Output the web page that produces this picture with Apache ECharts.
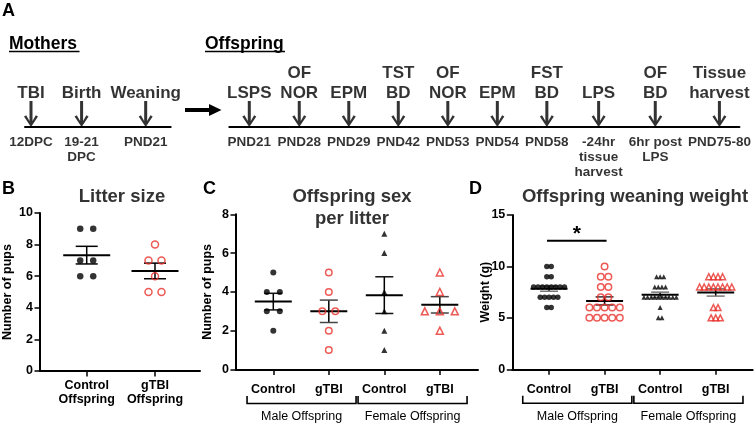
<!DOCTYPE html>
<html><head><meta charset="utf-8">
<script src="https://cdn.jsdelivr.net/npm/echarts@6/dist/echarts.min.js"></script>
<style>html,body{margin:0;padding:0;background:#fff}#c{width:754px;height:424px}</style>
</head><body><div id="c"></div>
<script>
// ---------- Data ----------
const mothersEvents = ['TBI', 'Birth', 'Weaning'];
const mothersDates = ['12DPC', '19-21\nDPC', 'PND21'];
const offspringEvents = ['LSPS', 'OF\nNOR', 'EPM', 'TST\nBD', 'OF\nNOR', 'EPM', 'FST\nBD', 'LPS', 'OF\nBD', 'Tissue\nharvest'];
const offspringDates = ['PND21', 'PND28', 'PND29', 'PND42', 'PND53', 'PND54', 'PND58', '-24hr\ntissue\nharvest', '6hr post\nLPS', 'PND75-80'];

const litterCategories = ['Control\nOffspring', 'gTBI\nOffspring'];
const litterControl = [9, 9, 7, 7, 6, 6];
const litterGTBI = [8, 7, 7, 6, 5, 5];

const sexCategories = ['Control', 'gTBI', 'Control', 'gTBI'];
const sexGroups = ['Male Offspring', 'Female Offspring'];
const sexMaleControl = [5, 4, 4, 3, 3, 2];
const sexMaleGTBI = [5, 4, 3, 3, 2, 1];
const sexFemaleControl = [7, 6, 4, 3, 2, 1];
const sexFemaleGTBI = [5, 4, 3, 3, 3, 2];

const weightCategories = ['Control', 'gTBI', 'Control', 'gTBI'];
const weightGroups = ['Male Offspring', 'Female Offspring'];
const weightMaleControl = [10, 10, 9, 9, 8, 8, 8, 8, 8, 8, 8, 8, 7, 7, 7, 7, 7, 6, 6];
const weightMaleGTBI = [10, 9, 9, 8, 8, 7, 7, 6, 6, 6, 6, 6, 5, 5, 5, 5, 5];
const weightFemaleControl = [9, 9, 9, 8, 8, 8, 8, 7, 7, 7, 7, 7, 7, 7, 7, 7, 7, 6, 5, 5];
const weightFemaleGTBI = [9, 9, 9, 9, 8, 8, 8, 8, 8, 8, 8, 8, 6, 6, 5, 5, 5];
const weightSignificance = [[0, 1, 12.5]];
const sigLabel = '*';

// ---------- Helpers ----------
const FONT = "'Liberation Sans', Arial, sans-serif";
const RED = '#e8312a';
const ARROW = 'path://M5.5 0H8.5V20L11.8 14.2L14 15.4L7 26L0 15.4L2.2 14.2L5.5 20Z';
const EVENT_FONT = 'bold 17px ' + FONT;
const DATE_FONT = 'bold 13.5px ' + FONT;

const measureCtx = document.createElement('canvas').getContext('2d');
function textWidth(text, font) {
  measureCtx.font = font;
  return Math.max.apply(null, text.split('\n').map(s => measureCtx.measureText(s).width));
}
// Timeline layout: each stop gets a slot as wide as its widest label, separated by a fixed gap
function timelinePositions(events, dates, gap) {
  const w = events.map((e, i) => Math.max(textWidth(e, EVENT_FONT), textWidth(dates[i], DATE_FONT)));
  const pos = [0];
  for (let i = 1; i < w.length; i++) pos.push(pos[i - 1] + (w[i - 1] + w[i]) / 2 + gap);
  return pos;
}
const mothersPos = timelinePositions(mothersEvents, mothersDates, 9);
const offspringPos = timelinePositions(offspringEvents, offspringDates, 6);

function mean(a) { return a.reduce((s, v) => s + v, 0) / a.length; }
function sem(a) {
  const m = mean(a);
  const v = a.reduce((s, x) => s + (x - m) * (x - m), 0) / (a.length - 1);
  return Math.sqrt(v) / Math.sqrt(a.length);
}
function swarm(values, cat, step) {
  const counts = {}, seen = {};
  values.forEach(v => counts[v] = (counts[v] || 0) + 1);
  return values.map(v => {
    seen[v] = seen[v] === undefined ? 0 : seen[v] + 1;
    return { value: [cat, v], symbolOffset: [(seen[v] - (counts[v] - 1) / 2) * step, 0] };
  });
}
function statsData(groups) { return groups.map((g, i) => [i, mean(g), sem(g)]); }

function meanSemSeries(xi, groups, meanHalf, capHalf, capColors) {
  return {
    type: 'custom', xAxisIndex: xi, yAxisIndex: xi, clip: false, z: 2, silent: true,
    data: statsData(groups),
    renderItem: function (params, api) {
      const x = api.value(0), m = api.value(1), s = api.value(2);
      const c = api.coord([x, m]), t = api.coord([x, m + s]), b = api.coord([x, m - s]);
      const cc = capColors[params.dataIndex];
      return {
        type: 'group', children: [
          { type: 'line', shape: { x1: t[0], y1: t[1], x2: b[0], y2: b[1] }, style: { stroke: '#000', lineWidth: 1.5 } },
          { type: 'line', shape: { x1: t[0] - capHalf, y1: t[1], x2: t[0] + capHalf, y2: t[1] }, style: { stroke: cc, lineWidth: 1.5 } },
          { type: 'line', shape: { x1: b[0] - capHalf, y1: b[1], x2: b[0] + capHalf, y2: b[1] }, style: { stroke: cc, lineWidth: 1.5 } },
          { type: 'line', shape: { x1: c[0] - meanHalf, y1: c[1], x2: c[0] + meanHalf, y2: c[1] }, style: { stroke: '#000', lineWidth: 2 } }
        ]
      };
    }
  };
}

function bracketSeries(xi, groupNames) {
  return {
    type: 'custom', xAxisIndex: xi, yAxisIndex: xi, clip: false, z: 2, silent: true,
    data: groupNames.map((g, i) => [i * 2, i * 2 + 1]),
    renderItem: function (params, api) {
      const l = api.coord([api.value(0) - 0.5, 0]);
      const r = api.coord([api.value(1) + 0.5, 0]);
      const x1 = l[0] + 1.5, x2 = r[0] - 0.5, base = l[1];
      return {
        type: 'group', children: [
          { type: 'polyline', shape: { points: [[x1, base + 26.5], [x1, base + 34], [x2, base + 34], [x2, base + 26.5]] }, style: { stroke: '#000', lineWidth: 1.6, fill: null } },
          { type: 'text', style: { text: groupNames[params.dataIndex], x: (x1 + x2) / 2, y: base + 47, fill: '#000', font: '12.5px ' + FONT, align: 'center', verticalAlign: 'middle', textAlign: 'center', textVerticalAlign: 'middle' } }
        ]
      };
    }
  };
}

function pointSeries(xi, values, cat, step, symbol, size, filled) {
  return {
    type: 'scatter', xAxisIndex: xi, yAxisIndex: xi, clip: false, z: 3, silent: true,
    symbol: symbol, symbolSize: size,
    itemStyle: filled ? { color: '#000' } : { color: 'rgba(255,255,255,0)', borderColor: RED, borderWidth: 1.5 },
    data: swarm(values, cat, step)
  };
}

function catXAxis(gi, min, max, cats, margin, lineHeight) {
  const ticks = cats.map((c, i) => i);
  return {
    type: 'value', gridIndex: gi, min: min, max: max,
    axisLine: { show: true, onZero: false, lineStyle: { color: '#000', width: 2 } },
    axisTick: { show: true, customValues: ticks, length: 5.5, lineStyle: { color: '#000', width: 1.5 } },
    axisLabel: { show: true, customValues: ticks, margin: margin, formatter: v => cats[Math.round(v)] || '', color: '#000', fontWeight: 'bold', fontSize: 12.5, fontFamily: FONT, lineHeight: lineHeight },
    splitLine: { show: false }
  };
}
function valYAxis(gi, max, interval, name, nameGap) {
  return {
    type: 'value', gridIndex: gi, min: 0, max: max, interval: interval,
    name: name, nameLocation: 'middle', nameGap: nameGap, nameMoveOverlap: false,
    nameTextStyle: { color: '#000', fontWeight: 'bold', fontSize: 12.5, fontFamily: FONT },
    axisLine: { show: true, onZero: false, lineStyle: { color: '#000', width: 2 } },
    axisTick: { show: true, length: 5.5, lineStyle: { color: '#000', width: 1.5 } },
    axisLabel: { color: '#000', fontWeight: 'bold', fontSize: 12.5, fontFamily: FONT, margin: 7 },
    splitLine: { show: false }
  };
}
function timelineX(gi, min, max) {
  return {
    type: 'value', gridIndex: gi, min: min, max: max,
    axisLine: { show: true, onZero: true, lineStyle: { color: '#000', width: 2 } },
    axisTick: { show: false }, axisLabel: { show: false }, splitLine: { show: false }
  };
}
function timelineY(gi) { return { type: 'value', gridIndex: gi, min: 0, max: 1, show: false }; }

function eventSeries(xi, names, pos) {
  return {
    type: 'scatter', xAxisIndex: xi, yAxisIndex: xi, clip: false, silent: true,
    symbol: ARROW, symbolSize: [14, 26], symbolOffset: [0, -13], itemStyle: { color: '#000' },
    data: names.map((n, i) => [pos[i], 0]),
    label: { show: true, position: 'top', distance: -2, formatter: p => names[p.dataIndex], color: '#000', fontWeight: 'bold', fontSize: 17, fontFamily: FONT, lineHeight: 19.5, align: 'center' }
  };
}
function dateSeries(xi, names, pos) {
  return {
    type: 'scatter', xAxisIndex: xi, yAxisIndex: xi, clip: false, silent: true,
    symbolSize: 1, itemStyle: { color: 'rgba(0,0,0,0)' },
    data: names.map((n, i) => [pos[i], 0]),
    label: { show: true, position: 'bottom', distance: 7, formatter: p => names[p.dataIndex], color: '#000', fontWeight: 'bold', fontSize: 13.5, fontFamily: FONT, lineHeight: 15, align: 'center' }
  };
}

const titleStyle = { color: '#333', fontWeight: 'bold', fontSize: 18.5, fontFamily: FONT, lineHeight: 22.6 };

// timeline axis extents (1 unit = 1 px)
const mMin = -6, mMax = mothersPos[mothersPos.length - 1] + 25;
const oMin = -20, oMax = offspringPos[offspringPos.length - 1] + 20;

const option = {
  animation: false,
  backgroundColor: '#fff',
  title: [
    { text: 'Litter size', left: 122, top: 185.5, textAlign: 'center', padding: 0, textStyle: titleStyle },
    { text: 'Offspring sex\nper litter', left: 352, top: 185.5, textAlign: 'center', padding: 0, textStyle: titleStyle },
    { text: 'Offspring weaning weight', left: 635, top: 185.5, textAlign: 'center', padding: 0, textStyle: titleStyle }
  ],
  graphic: [
    { type: 'text', style: { text: 'A', x: 2, y: 11, font: 'bold 18px ' + FONT, fill: '#000', verticalAlign: 'middle' } },
    { type: 'text', style: { text: 'B', x: 2, y: 189, font: 'bold 18px ' + FONT, fill: '#000', verticalAlign: 'middle' } },
    { type: 'text', style: { text: 'C', x: 203, y: 189, font: 'bold 18px ' + FONT, fill: '#000', verticalAlign: 'middle' } },
    { type: 'text', style: { text: 'D', x: 469, y: 189, font: 'bold 18px ' + FONT, fill: '#000', verticalAlign: 'middle' } },
    { type: 'text', style: { text: 'Mothers', x: 9, y: 44, font: 'bold 17.5px ' + FONT, fill: '#000', verticalAlign: 'middle' } },
    { type: 'line', shape: { x1: 9, y1: 51.5, x2: 79.5, y2: 51.5 }, style: { stroke: '#000', lineWidth: 1.6 } },
    { type: 'text', style: { text: 'Offspring', x: 205, y: 44, font: 'bold 17.5px ' + FONT, fill: '#000', verticalAlign: 'middle' } },
    { type: 'line', shape: { x1: 205, y1: 51.5, x2: 285, y2: 51.5 }, style: { stroke: '#000', lineWidth: 1.6 } },
    { type: 'polygon', shape: { points: [[185, 108], [209, 108], [209, 104], [221.5, 110], [209, 116], [209, 112], [185, 112]] }, style: { fill: '#000' } }
  ],
  grid: [
    { left: 25, top: 60, width: mMax - mMin, height: 67 },
    { left: 229.3, top: 60, width: oMax - oMin, height: 67 },
    { left: 40, top: 213, width: 160, height: 158 },
    { left: 236, top: 214.3, width: 242, height: 155.2 },
    { left: 512.3, top: 215, width: 240.4, height: 154.3 }
  ],
  xAxis: [
    timelineX(0, mMin, mMax),
    timelineX(1, oMin, oMax),
    catXAxis(2, -0.684, 1.659, litterCategories, 8, 14),
    catXAxis(3, -0.672, 3.688, sexCategories, 13, 14),
    catXAxis(4, -0.661, 3.666, weightCategories, 13, 14)
  ],
  yAxis: [
    timelineY(0), timelineY(1),
    valYAxis(2, 10, 2, 'Number of pups', 26),
    valYAxis(3, 8, 2, 'Number of pups', 22),
    valYAxis(4, 15, 5, 'Weight (g)', 20)
  ],
  series: [
    eventSeries(0, mothersEvents, mothersPos), dateSeries(0, mothersDates, mothersPos),
    eventSeries(1, offspringEvents, offspringPos), dateSeries(1, offspringDates, offspringPos),

    meanSemSeries(2, [litterControl, litterGTBI], 23.5, 11, ['#000', '#000']),
    pointSeries(2, litterControl, 0, 13, 'circle', 6.5, true),
    pointSeries(2, litterGTBI, 1, 13, 'circle', 7, false),

    meanSemSeries(3, [sexMaleControl, sexMaleGTBI, sexFemaleControl, sexFemaleGTBI], 18.5, 9, ['#111', '#444', '#111', '#444']),
    pointSeries(3, sexMaleControl, 0, 13, 'circle', 6, true),
    pointSeries(3, sexMaleGTBI, 1, 13, 'circle', 6.5, false),
    pointSeries(3, sexFemaleControl, 2, 15, 'triangle', 6, true),
    pointSeries(3, sexFemaleGTBI, 3, 15, 'triangle', 7, false),
    bracketSeries(3, sexGroups),

    meanSemSeries(4, [weightMaleControl, weightMaleGTBI, weightFemaleControl, weightFemaleGTBI], 18.5, 9, ['#777', '#333', '#777', '#777']),
    pointSeries(4, weightMaleControl, 0, 4.4, 'circle', 5.5, true),
    pointSeries(4, weightMaleGTBI, 1, 7.6, 'circle', 6.5, false),
    pointSeries(4, weightFemaleControl, 2, 3.6, 'triangle', 5, true),
    pointSeries(4, weightFemaleGTBI, 3, 4.6, 'triangle', 6, false),
    bracketSeries(4, weightGroups),
    {
      type: 'custom', xAxisIndex: 4, yAxisIndex: 4, clip: false, z: 2, silent: true,
      data: weightSignificance,
      renderItem: function (params, api) {
        const a = api.coord([api.value(0), api.value(2)]);
        const b = api.coord([api.value(1), api.value(2)]);
        return {
          type: 'group', children: [
            { type: 'line', shape: { x1: a[0] - 2, y1: a[1], x2: b[0] + 2, y2: b[1] }, style: { stroke: '#000', lineWidth: 2 } },
            { type: 'text', style: { text: sigLabel, x: (a[0] + b[0]) / 2, y: a[1] - 7, fill: '#000', font: 'bold 21px ' + FONT, align: 'center', verticalAlign: 'middle', textAlign: 'center', textVerticalAlign: 'middle' } }
          ]
        };
      }
    }
  ]
};

const chart = echarts.init(document.getElementById('c'), null, { renderer: 'canvas' });
chart.setOption(option);
</script>
</body></html>
